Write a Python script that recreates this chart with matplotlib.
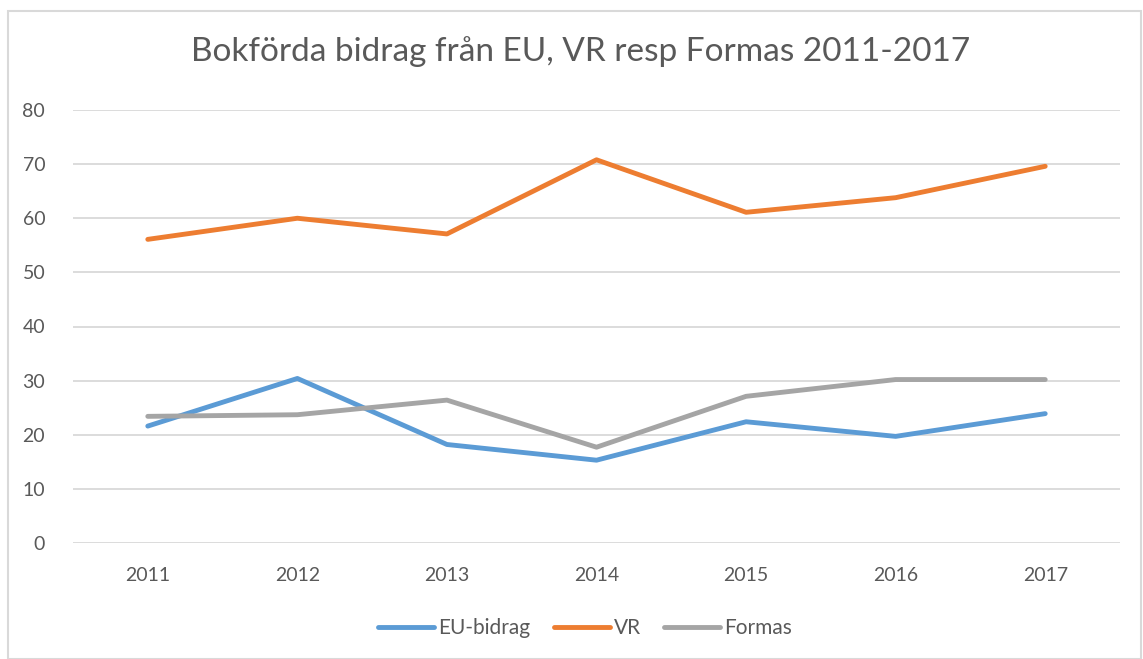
import matplotlib
matplotlib.use("Agg")
import matplotlib.pyplot as plt
from matplotlib.patches import Rectangle

years = ["2011", "2012", "2013", "2014", "2015", "2016", "2017"]
eu_bidrag = [21.6, 30.4, 18.2, 15.3, 22.4, 19.7, 23.9]
vr = [56.1, 60.0, 57.1, 70.8, 61.1, 63.8, 69.6]
formas = [23.4, 23.7, 26.4, 17.7, 27.1, 30.2, 30.2]
series_names = ["EU-bidrag", "VR", "Formas"]
colors = ["#5B9BD5", "#ED7D31", "#A5A5A5"]
yticks = [0, 10, 20, 30, 40, 50, 60, 70, 80]

plt.rcParams['font.family'] = ['Lato', 'DejaVu Sans']
txt = "#595959"

fig = plt.figure(figsize=(11.43, 6.59), dpi=100)
fig.patches.append(Rectangle((8/1143, 0), 1 - 10/1143, 1 - 11/659, transform=fig.transFigure,
                             fill=False, edgecolor="#D9D9D9", linewidth=1.5))
ax = fig.add_axes([73/1143, 1 - 543/659, (1120 - 73)/1143, (543 - 110)/659])

x = list(range(len(years)))
for vals, name, c in zip([eu_bidrag, vr, formas], series_names, colors):
    ax.plot(x, vals, color=c, linewidth=3.5, label=name, solid_capstyle='round', solid_joinstyle='round')

ax.set_xlim(-0.5, len(years) - 0.5)
ax.set_ylim(0, 80)
ax.set_yticks(yticks)
ax.set_xticks(x)
ax.set_xticklabels(years)
ax.grid(axis='y', color="#D9D9D9", linewidth=1.3)
ax.set_axisbelow(True)
for s in ax.spines.values():
    s.set_visible(False)
ax.tick_params(axis='both', length=0, colors=txt, labelsize=14)
ax.tick_params(axis='y', pad=20)
ax.tick_params(axis='x', pad=17)

fig.text(0.508, 1 - 52/659, "Bokförda bidrag från EU, VR resp Formas 2011-2017", ha='center', va='center',
         fontsize=24, color=txt)

leg = fig.legend(loc='center', bbox_to_anchor=(0.512, 1 - 628/659), ncol=3, frameon=False,
                 fontsize=15, handlelength=2.7, columnspacing=1.1, handletextpad=0.2)
for t in leg.get_texts():
    t.set_color(txt)

fig.savefig("out.png", dpi=100)
